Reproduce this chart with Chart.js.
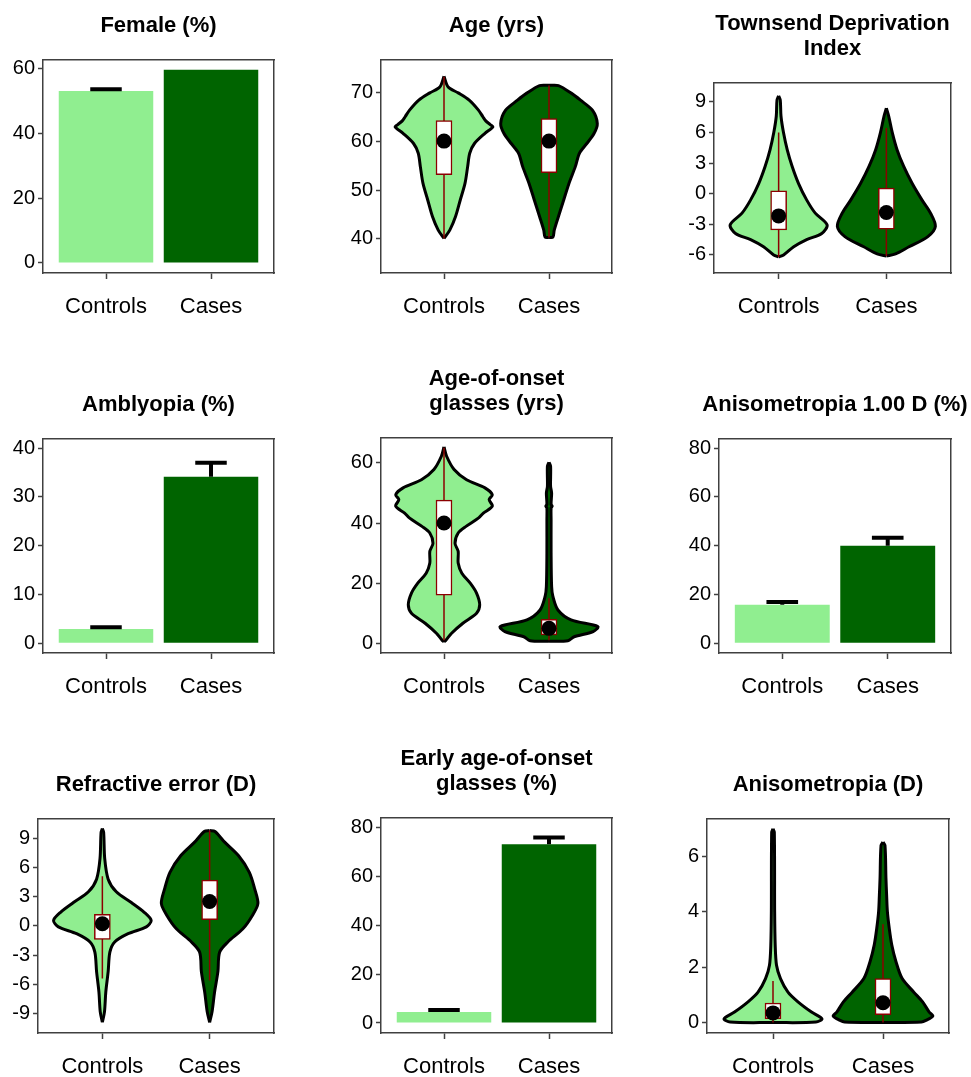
<!DOCTYPE html>
<html>
<head>
<meta charset="utf-8">
<script src="https://cdn.jsdelivr.net/npm/chart.js@4.4.1/dist/chart.umd.min.js"></script>
<style>
html, body { margin: 0; padding: 0; background: #fff; overflow: hidden; width: 971px; height: 1077px; }
canvas { position: absolute; }
</style>
</head>
<body>
<script>
var groups = ['Controls', 'Cases'];
var groupColors = ['#90EE90', '#006400'];

// bar panels: percentage and upper end of error bar [Controls, Cases]
var femalePct = [53.0, 59.6];
var femaleErr = [53.6, null];
var amblyopiaPct = [2.9, 34.1];
var amblyopiaErr = [3.3, 37.0];
var aniso100Pct = [15.8, 40.0];
var aniso100Err = [16.9, 43.2];
var earlyOnsetPct = [4.5, 73.2];
var earlyOnsetErr = [5.3, 76.0];

// violins: value levels and half widths (x units)
var ageCtrlY = [40.1, 41.8, 44.6, 48, 51.4, 54.8, 57.6, 59.6, 61.7, 63, 63.5, 64.2, 65.1, 66.4, 68.5, 70, 71.2, 73.4];
var ageCtrlW = [0, 0.055, 0.11, 0.155, 0.2, 0.225, 0.245, 0.29, 0.39, 0.465, 0.44, 0.4, 0.37, 0.33, 0.24, 0.135, 0.04, 0];
var ageCaseY = [40.3, 40.35, 41.8, 44.6, 48, 51.4, 54.8, 57.6, 59.6, 61.7, 63.7, 66.4, 68.5, 69.9, 71.5, 71.55];
var ageCaseW = [0, 0.037, 0.05, 0.09, 0.14, 0.19, 0.25, 0.29, 0.36, 0.43, 0.46, 0.415, 0.3, 0.215, 0.09, 0];

var tdiCtrlY = [-6.2, -6.0, -5.2, -4.5, -3.9, -3.05, -1.9, -0.6, 1.0, 2.7, 4.3, 6.0, 7.6, 9.2, 9.6];
var tdiCtrlW = [0, 0.046, 0.14, 0.26, 0.4, 0.45, 0.34, 0.26, 0.185, 0.125, 0.08, 0.045, 0.022, 0.015, 0];
var tdiCaseY = [-6.1, -5.9, -5.2, -4.2, -3.2, -1.9, -0.6, 1.0, 2.7, 4.3, 6.0, 7.6, 8.4];
var tdiCaseW = [0, 0.085, 0.21, 0.385, 0.455, 0.41, 0.33, 0.24, 0.16, 0.1, 0.055, 0.022, 0];

var onsetCtrlY = [0.5, 1.1, 3.3, 6.7, 10, 12.8, 16.7, 20, 23.3, 26.7, 30.6, 33.3, 36.7, 38.9, 41.7, 43.3, 45.6, 47.8, 49.4, 51.7, 54.4, 57.8, 62.2, 65.3];
var onsetCtrlW = [0, 0.02, 0.07, 0.18, 0.31, 0.34, 0.31, 0.25, 0.17, 0.135, 0.135, 0.105, 0.135, 0.21, 0.33, 0.375, 0.46, 0.43, 0.46, 0.39, 0.215, 0.096, 0.025, 0];
var onsetCaseY = [0.7, 0.9, 2.2, 3.9, 5.6, 7.8, 11.1, 15.6, 18.9, 30, 41.1, 45, 45.6, 46.2, 50, 52.2, 58.9, 60.2];
var onsetCaseW = [0, 0.18, 0.24, 0.42, 0.465, 0.21, 0.085, 0.037, 0.025, 0.02, 0.02, 0.02, 0.03, 0.02, 0.025, 0.015, 0.015, 0];

var refrCtrlY = [-9.9, -8.8, -6.8, -4.7, -2.7, -1.65, -0.8, -0.1, 0.56, 1.4, 2.4, 3.5, 4.8, 6.9, 9.6, 10.0];
var refrCtrlW = [0, 0.02, 0.032, 0.054, 0.07, 0.115, 0.24, 0.41, 0.455, 0.39, 0.27, 0.13, 0.054, 0.022, 0.012, 0];
var refrCaseY = [-9.9, -8.8, -6.8, -4.7, -2.7, -1.65, -0.3, 1.1, 2.3, 3.8, 5.5, 7.2, 8.6, 9.7, 9.8];
var refrCaseW = [0, 0.023, 0.046, 0.077, 0.093, 0.17, 0.31, 0.4, 0.45, 0.42, 0.37, 0.27, 0.14, 0.05, 0];

var anisoCtrlY = [0, 0.02, 0.14, 0.38, 0.75, 1.1, 1.59, 2.07, 2.8, 4.0, 6.88, 7.0];
var anisoCtrlW = [0, 0.39, 0.445, 0.35, 0.227, 0.136, 0.068, 0.032, 0.02, 0.015, 0.012, 0];
var anisoCaseY = [0, 0.02, 0.08, 0.24, 0.38, 0.75, 1.1, 1.6, 2.2, 2.8, 3.4, 4.0, 4.6, 5.2, 6.4, 6.52];
var anisoCaseW = [0, 0.35, 0.39, 0.453, 0.42, 0.36, 0.28, 0.173, 0.118, 0.08, 0.057, 0.04, 0.033, 0.027, 0.018, 0];

// box statistics [Controls, Cases]
var ageQ1 = [53.2, 53.6], ageQ3 = [64.3, 64.7], ageMed = [60.1, 60.1], ageLo = [40.1, 40.3], ageHi = [73.3, 71.5];
var tdiQ1 = [-3.55, -3.48], tdiQ3 = [0.29, 0.55], tdiMed = [-2.17, -1.84], tdiLo = [-6.2, -6.1], tdiHi = [6.0, 6.45];
var onsetQ1 = [16, 2.8], onsetQ3 = [47.6, 8], onsetMed = [40, 5], onsetLo = [1, 1], onsetHi = [65, 15];
var refrQ1 = [-1.38, 0.63], refrQ3 = [1.2, 4.7], refrMed = [0.22, 2.5], refrLo = [-5.4, -5.6], refrHi = [5.1, 9.8];
var anisoQ1 = [0.14, 0.29], anisoQ3 = [0.71, 1.59], anisoMed = [0.35, 0.72], anisoLo = [0, 0], anisoHi = [1.5, 3.55];

// y tick labels
var femaleTicks = [0, 20, 40, 60];
var ageTicks = [40, 50, 60, 70];
var tdiTicks = [-6, -3, 0, 3, 6, 9];
var amblyopiaTicks = [0, 10, 20, 30, 40];
var onsetTicks = [0, 20, 40, 60];
var aniso100Ticks = [0, 20, 40, 60, 80];
var refrTicks = [-9, -6, -3, 0, 3, 6, 9];
var earlyOnsetTicks = [0, 20, 40, 60, 80];
var anisoTicks = [0, 2, 4, 6];

var panels = [
    {title: ['Female (%)'], left: 43, top: 59, w: 231, h: 214, ymin: -3.1, ymax: 62.8, ticks: femaleTicks,
     bars: femalePct, err: femaleErr},
    {title: ['Age (yrs)'], left: 381, top: 59, w: 231, h: 214, ymin: 33, ymax: 76.9, ticks: ageTicks,
     violins: [[ageCtrlY, ageCtrlW], [ageCaseY, ageCaseW]], q1: ageQ1, q3: ageQ3, med: ageMed, lo: ageLo, hi: ageHi},
    {title: ['Townsend Deprivation', 'Index'], left: 714, top: 83, w: 237, h: 190, ymin: -7.77, ymax: 10.9, ticks: tdiTicks,
     violins: [[tdiCtrlY, tdiCtrlW], [tdiCaseY, tdiCaseW]], q1: tdiQ1, q3: tdiQ3, med: tdiMed, lo: tdiLo, hi: tdiHi},
    {title: ['Amblyopia (%)'], left: 43, top: 438, w: 231, h: 215, ymin: -2, ymax: 42, ticks: amblyopiaTicks,
     bars: amblyopiaPct, err: amblyopiaErr},
    {title: ['Age-of-onset', 'glasses (yrs)'], left: 381, top: 438, w: 231, h: 215, ymin: -3.2, ymax: 68.4, ticks: onsetTicks,
     violins: [[onsetCtrlY, onsetCtrlW], [onsetCaseY, onsetCaseW]], q1: onsetQ1, q3: onsetQ3, med: onsetMed, lo: onsetLo, hi: onsetHi},
    {title: ['Anisometropia 1.00 D (%)'], left: 719, top: 438, w: 232, h: 215, ymin: -4, ymax: 84, ticks: aniso100Ticks,
     bars: aniso100Pct, err: aniso100Err},
    {title: ['Refractive error (D)'], left: 38, top: 818, w: 236, h: 215, ymin: -11, ymax: 11.05, ticks: refrTicks,
     violins: [[refrCtrlY, refrCtrlW], [refrCaseY, refrCaseW]], q1: refrQ1, q3: refrQ3, med: refrMed, lo: refrLo, hi: refrHi},
    {title: ['Early age-of-onset', 'glasses (%)'], left: 381, top: 818, w: 231, h: 215, ymin: -4.1, ymax: 84.1, ticks: earlyOnsetTicks,
     bars: earlyOnsetPct, err: earlyOnsetErr},
    {title: ['Anisometropia (D)'], left: 707, top: 818, w: 242, h: 215, ymin: -0.375, ymax: 7.38, ticks: anisoTicks,
     violins: [[anisoCtrlY, anisoCtrlW], [anisoCaseY, anisoCaseW]], q1: anisoQ1, q3: anisoQ3, med: anisoMed, lo: anisoLo, hi: anisoHi}
];

Chart.defaults.font.family = '"Liberation Sans", Arial, sans-serif';
Chart.defaults.color = '#000';

var frameColor = '#404040';
var boxRed = '#8B0000';
var titleSize = 22, titleLine = 1.15, titleGap = 21;

function barDatasets(p) {
    var ds = [{
        type: 'bar',
        data: p.bars.map(function (v, i) { return {x: i + 1, y: v}; }),
        backgroundColor: groupColors,
        barPercentage: 0.9,
        categoryPercentage: 1,
        order: 2
    }];
    p.err.forEach(function (e, i) {
        if (e === null) return;
        var cx = i + 1;
        // cap
        ds.push({type: 'line', data: [{x: cx - 0.15, y: e}, {x: cx + 0.15, y: e}],
                 borderColor: '#000', borderWidth: 4, pointRadius: 0, fill: false, order: 1});
        // stem
        ds.push({type: 'line', data: [{x: cx, y: p.bars[i]}, {x: cx, y: e}],
                 borderColor: '#000', borderWidth: 4, pointRadius: 0, fill: false, order: 1});
    });
    return ds;
}

function violinDatasets(p) {
    var ds = [];
    p.violins.forEach(function (v, i) {
        var cx = i + 1, levels = v[0], half = v[1];
        var edge = {type: 'line', indexAxis: 'y', borderColor: '#000', borderWidth: 3,
                    pointRadius: 0, tension: 0.3, order: 4};
        ds.push(Object.assign({
            data: levels.map(function (y, k) { return {x: cx - half[k], y: y}; }),
            fill: '+1', backgroundColor: groupColors[i]
        }, edge));
        ds.push(Object.assign({
            data: levels.map(function (y, k) { return {x: cx + half[k], y: y}; }),
            fill: false
        }, edge));
        // whisker
        ds.push({type: 'line', data: [{x: cx, y: p.lo[i]}, {x: cx, y: p.hi[i]}],
                 borderColor: boxRed, borderWidth: 1.5, pointRadius: 0, fill: false, order: 3});
    });
    // box
    ds.push({type: 'bar',
             data: p.q1.map(function (q, i) { return {x: i + 1, y: [q, p.q3[i]]}; }),
             backgroundColor: '#fff', borderColor: boxRed, borderWidth: 1.5, borderSkipped: false,
             barThickness: 16, order: 2});
    // median dot
    ds.push({type: 'line', showLine: false,
             data: p.med.map(function (m, i) { return {x: i + 1, y: m}; }),
             pointRadius: 7.5, pointBackgroundColor: '#000', pointBorderWidth: 0, order: 1});
    return ds;
}

function options(p) {
    return {
        responsive: false,
        devicePixelRatio: 1,
        animation: false,
        events: [],
        layout: {padding: 0},
        plugins: {
            legend: {display: false},
            tooltip: {enabled: false},
            filler: {drawTime: 'beforeDatasetsDraw'},
            title: {
                display: true,
                text: p.title,
                color: '#000',
                font: {size: titleSize, weight: 'bold', lineHeight: titleLine},
                padding: {top: 0, bottom: titleGap}
            }
        },
        scales: {
            x: {
                type: 'linear', position: 'bottom', min: 0.4, max: 2.6, offset: false,
                afterBuildTicks: function (s) { s.ticks = [1, 2].map(function (v) { return {value: v}; }); },
                afterFit: function (s) { s.height = 50; },
                ticks: {callback: function (v) { return groups[v - 1]; }, font: {size: 22},
                        color: '#000', padding: 15, maxRotation: 0, autoSkip: false},
                grid: {offset: false, drawOnChartArea: false, tickLength: 6, tickColor: frameColor, tickWidth: 1.5},
                border: {display: true, color: frameColor, width: 1.5}
            },
            y: {
                type: 'linear', position: 'left', min: p.ymin, max: p.ymax,
                afterBuildTicks: function (s) { s.ticks = p.ticks.map(function (v) { return {value: v}; }); },
                afterFit: function (s) { s.width = 40; },
                ticks: {font: {size: 20}, color: '#000', padding: 3},
                grid: {offset: false, drawOnChartArea: false, tickLength: 5, tickColor: frameColor, tickWidth: 1.5},
                border: {display: true, color: frameColor, width: 1.5}
            },
            x2: {
                type: 'linear', position: 'top',
                afterFit: function (s) { s.height = 0; },
                ticks: {display: false},
                grid: {drawOnChartArea: false, drawTicks: false},
                border: {display: true, color: frameColor, width: 1.5}
            },
            y2: {
                type: 'linear', position: 'right',
                afterFit: function (s) { s.width = 40; },
                ticks: {display: false},
                grid: {drawOnChartArea: false, drawTicks: false},
                border: {display: true, color: frameColor, width: 1.5}
            }
        }
    };
}

panels.forEach(function (p) {
    var titleH = p.title.length * titleSize * titleLine + titleGap;
    var canvas = document.createElement('canvas');
    canvas.width = p.w + 80;
    canvas.height = Math.round(titleH + p.h + 50);
    canvas.style.left = (p.left - 40) + 'px';
    canvas.style.top = (p.top - titleH) + 'px';
    document.body.appendChild(canvas);
    new Chart(canvas, {
        type: p.bars ? 'bar' : 'line',
        data: {datasets: p.bars ? barDatasets(p) : violinDatasets(p)},
        options: options(p)
    });
});
</script>
</body>
</html>
